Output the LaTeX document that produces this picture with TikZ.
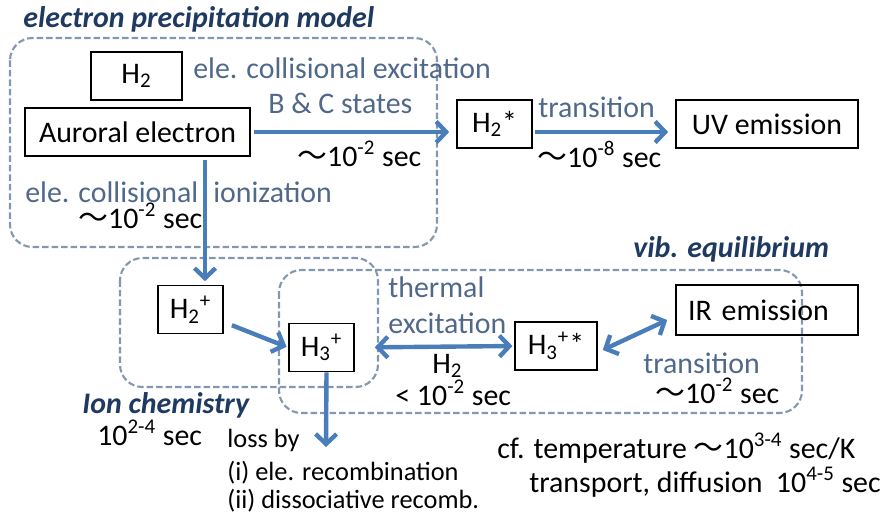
\documentclass[tikz,border=0pt]{standalone}
\usepackage{fontspec}
\setmainfont{Carlito}
\newfontfamily\cjk{Noto Sans CJK JP}
\usepackage{tikz}
\usetikzlibrary{arrows.meta}
\definecolor{arrowblue}{HTML}{4A7EBB}
\definecolor{textblue}{HTML}{50698A}
\definecolor{navy}{HTML}{1F3A60}
\definecolor{dashgray}{HTML}{8497B0}
\newcommand{\wave}{{\cjk ～}}
\newcommand{\mainsize}{\fontsize{17}{20}\selectfont}
\tikzstyle{species} = [rectangle, draw=black, line width=0.9pt, minimum height=0.96cm, text centered, inner sep=0pt]
\tikzstyle{bluetext} = [anchor=base west, inner sep=0pt, text=textblue]
\tikzstyle{blacktext} = [anchor=base west, inner sep=0pt, text=black]
\tikzstyle{smalltext} = [blacktext, font=\fontsize{15}{18}\selectfont]
\tikzstyle{header} = [anchor=base west, inner sep=0pt, text=navy, font=\mainsize\bfseries\itshape]
\tikzstyle{group} = [draw=dashgray, line width=1.2pt, dash pattern=on 0.13cm off 0.06cm, rounded corners=0.45cm]
\tikzstyle{arrow} = [draw=arrowblue, line width=2.5pt, -{Straight Barb[length=0.2cm, width=0.42cm]}]
\tikzstyle{dblarrow} = [draw=arrowblue, line width=2.5pt, {Straight Barb[length=0.2cm, width=0.42cm]}-{Straight Barb[length=0.2cm, width=0.42cm]}]

\begin{document}
\begin{tikzpicture}[x=0.02cm, y=-0.02cm, font=\mainsize]
\useasboundingbox (0,0) rectangle (883,521);

% dashed groups
\draw [group] (10,38) rectangle (437,247);
\draw [group] (120,258) rectangle (378,387);
\draw [group] (279,270) rectangle (802,413);

\node (h2) [species, minimum width=1.82cm] at (136.5,76) {H\textsubscript{2}};
\node (aurora) [species, minimum width=4.5cm] at (137.5,132) {Auroral electron};
\node (h2star) [species, minimum width=1.5cm] at (494.5,124) {H\textsubscript{2}*};
\node (uv) [species, minimum width=3.64cm] at (767,124) {UV emission};
\node (h2plus) [species, minimum width=1.3cm] at (190.5,309.5) {H\textsubscript{2}\textsuperscript{+}};
\node (h3plus) [species, minimum width=1.3cm] at (321.5,347.5) {H\textsubscript{3}\textsuperscript{+}};
\node (h3star) [species, minimum width=1.64cm] at (556,346) {H\textsubscript{3}\textsuperscript{+}*};
\node (ir) [species, minimum height=1cm, text width=3.16cm, align=left, inner xsep=0.24cm] at (767,310) {IR emission};

\node (prectitle) [header] at (23,27) {electron precipitation model};
\node (exclbl) [bluetext] at (193,78) {ele. collisional excitation};
\node (bcstates) [bluetext] at (268,113) {B \& C states};
\node (exctime) [blacktext] at (297,166) {\wave10\textsuperscript{-2} sec};
\node (ionlbl) [bluetext] at (25,202) {ele. collisional};
\node (ionlbl2) [bluetext] at (213,202) {ionization};
\node (iontime) [blacktext] at (78,228) {\wave10\textsuperscript{-2} sec};
\node (uvlbl) [bluetext] at (538,117) {transition};
\node (uvtime) [blacktext] at (537,167) {\wave10\textsuperscript{-8} sec};
\node (vibtitle) [header] at (633,257) {vib. equilibrium};
\node (thermlbl) [bluetext] at (388,297) {thermal};
\node (thermlbl2) [bluetext] at (388,333) {excitation};
\node (thermh2) [blacktext] at (432,373) {H\textsubscript{2}};
\node (thermtime) [blacktext] at (395,405) {< 10\textsuperscript{-2} sec};
\node (irlbl) [bluetext] at (643,373) {transition};
\node (irtime) [blacktext] at (655,403) {\wave10\textsuperscript{-2} sec};
\node (iontitle) [header] at (82,413) {Ion chemistry};
\node (ionchemtime) [blacktext] at (97,445) {10\textsuperscript{2-4} sec};
\node (lossby) [smalltext] at (227,447) {loss by};
\node (lossrec) [smalltext] at (227,480) {(i) ele. recombination};
\node (lossdis) [smalltext] at (227,508) {(ii) dissociative recomb.};
\node (cftemp) [blacktext] at (497,458) {cf. temperature \wave10\textsuperscript{3-4} sec/K};
\node (cftrans) [blacktext] at (529,492) {transport, diffusion\ \ 10\textsuperscript{4-5} sec};

\coordinate (ionx) at (205,0);
\coordinate (lossend) at (326,447);

\draw [arrow, shorten <=2pt, shorten >=4pt] (aurora.east) -- (aurora.east -| h2star.west);
\draw [arrow, shorten <=1pt, shorten >=4pt] (h2star.east |- aurora.east) -- (uv.west |- aurora.east);
\draw [arrow, shorten <=2pt, shorten >=2pt] (aurora.south -| ionx) -- (h2plus.north -| ionx);
\draw [arrow, shorten <=5pt, shorten >=1pt] ([yshift=-0.25cm]h2plus.east) -- (h3plus.west);
\draw [dblarrow, shorten <=0.4cm, shorten >=1pt] (h3plus.east) -- (h3star.west);
\draw [dblarrow] ([xshift=0.1cm,yshift=-0.08cm]h3star.east) -- ([xshift=-0.16cm,yshift=-0.2cm]ir.west);
\draw [arrow] ([xshift=0.1cm]h3plus.south) -- (lossend);

\end{tikzpicture}
\end{document}
